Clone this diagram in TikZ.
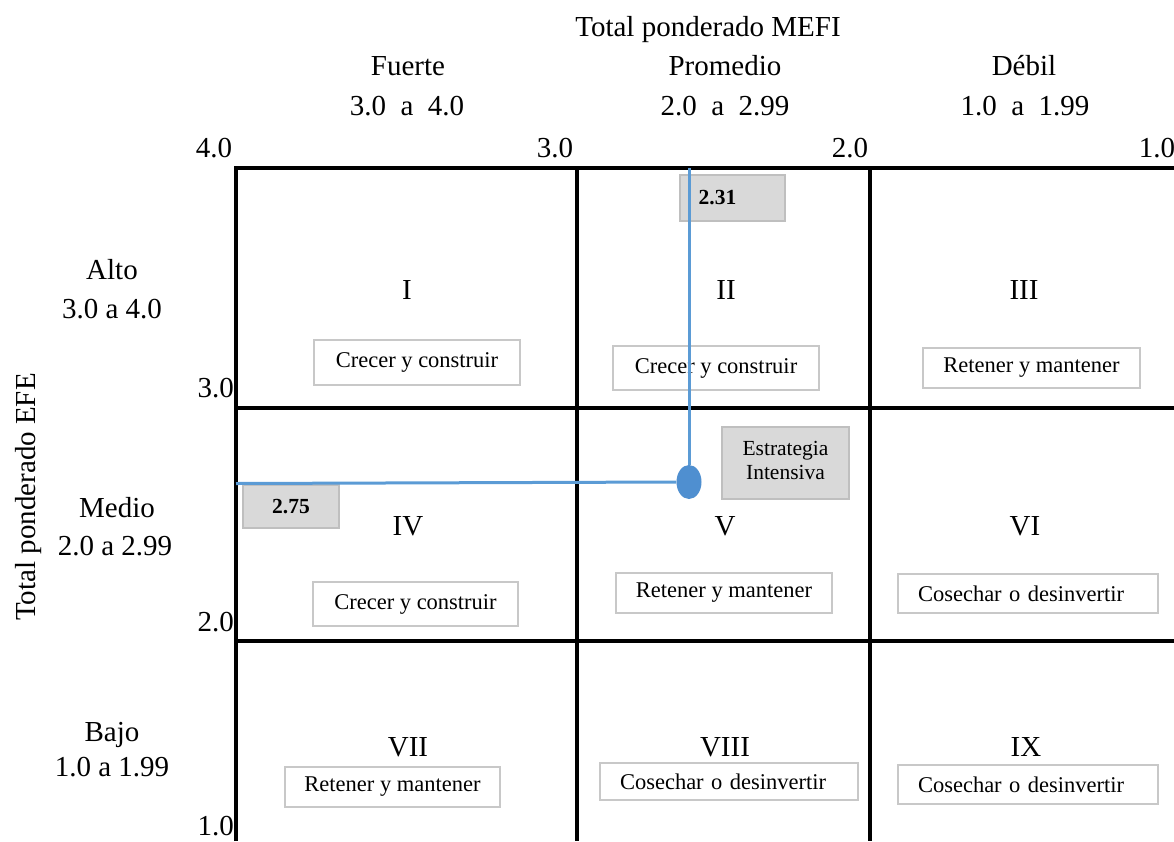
\documentclass[tikz,border=0pt]{standalone}
\usepackage{fontspec}
\setmainfont{Liberation Serif}
\usetikzlibrary{shapes.geometric}
\definecolor{gridblue}{HTML}{5B9BD5}
\definecolor{dotblue}{HTML}{4F8FD0}
\definecolor{notegray}{HTML}{D9D9D9}
\definecolor{noteedge}{HTML}{BFBFBF}
\definecolor{boxedge}{HTML}{C8C8C8}
\begin{document}
\begin{tikzpicture}[x=1pt,y=-1pt,
  lbl/.style={inner sep=0pt,anchor=base,font=\fontsize{29}{31}\selectfont},
  roman/.style={lbl},
  cellbox/.style={draw=boxedge,line width=1.3pt,fill=white,inner sep=0pt,
    font=\fontsize{22.5}{24}\selectfont},
  leftbox/.style={cellbox,align=left,text width=#1},
  note/.style={draw=noteedge,line width=1.3pt,fill=notegray,inner sep=0pt,
    font=\fontsize{21.5}{22}\selectfont,align=center},
  gridline/.style={line width=3.3pt,black},
  guide/.style={line width=3pt,gridblue}]
\useasboundingbox (0,0) rectangle (1174,841);

% matrix grid
\draw[gridline] (236,841) -- (236,168) -- (1174,168);
\draw[gridline] (236,408) -- (1174,408);
\draw[gridline] (236,641) -- (1174,641);
\draw[gridline] (577,168) -- (577,841);
\draw[gridline] (870,168) -- (870,841);

% column headings (MEFI)
\node[lbl] (title) at (708,36) {Total ponderado MEFI};
\node[lbl] (fuerte) at (408,75) {Fuerte};
\node[lbl] (fuerter) at (407,115) {3.0\ \ a\ \ 4.0};
\node[lbl] (prom) at (725,75) {Promedio};
\node[lbl] (promr) at (725,115) {2.0\ \ a\ \ 2.99};
\node[lbl] (debil) at (1024,75) {Débil};
\node[lbl] (debilr) at (1025,115) {1.0\ \ a\ \ 1.99};

% top scale
\node[lbl] (tx4) at (214,157) {4.0};
\node[lbl] (tx3) at (555,157) {3.0};
\node[lbl] (tx2) at (850,157) {2.0};
\node[lbl] (tx1) at (1157,157) {1.0};

% row headings (EFE)
\node[lbl,rotate=90] (efe) at (35,497) {Total ponderado EFE};
\node[lbl] (alto) at (112,279) {Alto};
\node[lbl] (altor) at (112,318) {3.0 a 4.0};
\node[lbl] (medio) at (117,517) {Medio};
\node[lbl] (medior) at (115,555) {2.0 a 2.99};
\node[lbl] (bajo) at (112,741) {Bajo};
\node[lbl] (bajor) at (112,776) {1.0 a 1.99};

% left scale
\node[lbl,anchor=base east] (ty3) at (234,397) {3.0};
\node[lbl,anchor=base east] (ty2) at (234,631) {2.0};
\node[lbl,anchor=base east] (ty1) at (234,835) {1.0};

% cell numbers
\node[roman] (c1) at (407,299) {I};
\node[roman] (c2) at (726,299) {II};
\node[roman] (c3) at (1024,299) {III};
\node[roman] (c4) at (408,535) {IV};
\node[roman] (c5) at (725,535) {V};
\node[roman] (c6) at (1025,535) {VI};
\node[roman] (c7) at (408,756) {VII};
\node[roman] (c8) at (725,756) {VIII};
\node[roman] (c9) at (1026,756) {IX};

% strategy boxes
\node[cellbox,minimum width=206,minimum height=45] (s1) at (417,362.5) {Crecer y construir};
\node[cellbox,minimum width=206,minimum height=44] (s2) at (716,368) {Crecer y construir};
\node[cellbox,minimum width=217,minimum height=40] (s3) at (1031.5,368) {Retener y mantener};
\node[cellbox,minimum width=205,minimum height=44] (s4) at (415.5,604) {Crecer y construir};
\node[cellbox,minimum width=216,minimum height=40] (s5) at (724,593) {Retener y mantener};
\node[leftbox=220,minimum height=39,inner xsep=20] (s6) at (1028,593.5) {Cosechar o desinvertir};
\node[cellbox,minimum width=215,minimum height=40] (s7) at (392.5,787) {Retener y mantener};
\node[leftbox=218,minimum height=37,inner xsep=20] (s8) at (729,781.5) {Cosechar o desinvertir};
\node[leftbox=220,minimum height=39,inner xsep=20] (s9) at (1028,784.5) {Cosechar o desinvertir};

% value labels
\node[note,minimum width=105,minimum height=46] (v231) at (732.5,198) {\hspace*{-30pt}\bfseries 2.31};
\node[note,minimum width=96,minimum height=43] (v275) at (291,506.5) {\bfseries 2.75};
\node[note,minimum width=127,minimum height=72] (est) at (785.5,463) {\raisebox{3pt}{\begin{tabular}{@{}c@{}}Estrategia\\[2pt]Intensiva\end{tabular}}};

% position of the company
\coordinate (topend) at (689,168);
\coordinate (leftend) at (236,483.5);
\node[ellipse,fill=dotblue,minimum width=25,minimum height=34,inner sep=0pt] (pos) at (689,482) {};
\draw[guide] (topend) -- (pos.north);
\draw[guide] (leftend) -- (pos.west);
\end{tikzpicture}
\end{document}
